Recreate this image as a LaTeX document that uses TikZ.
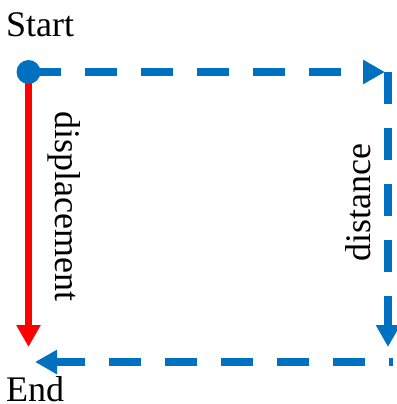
\documentclass[tikz,border=0pt]{standalone}
\usepackage{fontspec}
\setmainfont{Liberation Serif}
\usetikzlibrary{arrows.meta}
\definecolor{myblue}{RGB}{0,112,192}
\definecolor{myred}{RGB}{255,0,0}
\tikzset{
  bluepath/.style={draw=myblue, line width=8pt, dash pattern=on 32pt off 24pt,
    -{Triangle[length=22pt,width=23pt,fill=myblue]}},
  redpath/.style={draw=myred, line width=7pt,
    -{Triangle[length=22pt,width=23pt,fill=myred]}},
  lbl/.style={inner sep=0pt, font=\fontsize{36}{40}\selectfont}
}
\begin{document}
\begin{tikzpicture}[x=1pt,y=-1pt]
\useasboundingbox (0,0) rectangle (396,404);
\coordinate (start) at (28.5,72);
\coordinate (topend) at (385,72);
\coordinate (tr) at (388,72);
\coordinate (rightend) at (388,347);
\coordinate (br) at (393,362);
\coordinate (botend) at (35,362);
\coordinate (redend) at (28.5,347);
% connectors
\draw[redpath] (start) -- (redend);
\draw[bluepath] (start) -- (topend);
\draw[bluepath] (tr) -- (rightend);
\draw[bluepath, dash phase=28pt] (br) -- (botend);
% start dot
\node[circle, fill=myblue, minimum size=24pt, inner sep=0pt] (dot) at (start) {};
% labels
\node[lbl, anchor=base west] (st) at (6,37) {Start};
\node[lbl, anchor=base west, text depth=0pt] (en) at (6,401) {End};
\node[lbl, anchor=base, rotate=-90] (disp) at (55.5,206.5) {displacement};
\node[lbl, anchor=base, rotate=90] (dist) at (370.5,203) {distance};
\end{tikzpicture}
\end{document}
